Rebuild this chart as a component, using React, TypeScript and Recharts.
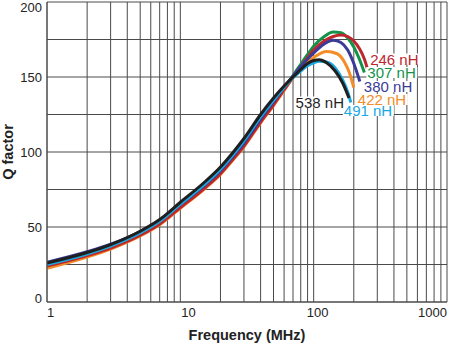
import React from 'react';
import {LineChart, Line, XAxis, YAxis, CartesianGrid, LabelList, Label} from 'recharts';

document.body.style.margin = '0';

// shared low-frequency points (MHz)
const baseFreq = [1, 2, 3, 5, 7, 10, 15, 20, 25, 30, 40, 50, 60, 70, 80, 90, 100];

// Q values per inductance: base part + tail up to the end of each curve
const q246 = [24, 31, 36, 44.5, 52, 63, 75.5, 85.5, 95.5, 104, 120, 131.5, 141.5, 150, 157, 163, 168];
const tailF246 = [120, 140, 160, 180, 200, 220, 240, 252];
const tailQ246 = [174, 177, 178, 177, 174, 169, 162, 156];

const q307 = [24.5, 31.5, 36.5, 45.5, 53, 64, 76.5, 86.5, 96.5, 105, 121, 132.5, 142.5, 151, 158.5, 165, 170.5];
const tailF307 = [120, 140, 160, 180, 200, 220, 240];
const tailQ307 = [177, 180, 179.5, 176, 170, 162, 153];

const q380 = [26.5, 33.5, 38.5, 47, 54.5, 65, 77.5, 87.5, 97.5, 106, 122, 133.5, 143, 150.5, 157, 162, 166];
const tailF380 = [120, 140, 160, 180, 200, 222];
const tailQ380 = [172, 174.5, 173, 168, 159, 147];

const q422 = [22.5, 30, 35.3, 44, 51.5, 62.5, 75, 85, 95, 103.5, 119.5, 131, 141, 149.5, 155.5, 160, 163];
const tailF422 = [125, 150, 170, 185, 200];
const tailQ422 = [167, 165.5, 160, 153, 143];

const q491 = [25, 32, 37.3, 46, 53.8, 65.2, 78, 88.5, 98.5, 107.5, 123.5, 134.5, 143, 149.5, 154, 157.5, 159.5];
const tailF491 = [110, 125, 145, 165, 180, 190];
const tailQ491 = [160.5, 160, 156, 148, 140, 133];

const q538 = [26, 33, 38.3, 47.2, 55, 66.5, 79.5, 90, 100, 109, 125, 136, 144, 150, 155, 159, 161];
const tailF538 = [110, 125, 145, 165, 184];
const tailQ538 = [161.5, 159.5, 154, 146, 136];

const xTicks = [1, 2, 3, 4, 5, 6, 7, 8, 9, 10, 20, 30, 40, 50, 60, 70, 80, 90, 100, 200, 300, 400, 500, 600, 700, 800, 900, 1000];
const yTicks = [0, 25, 50, 75, 100, 125, 150, 175, 200];

const FONT = 'Liberation Sans, Arial, Helvetica, sans-serif';
const GRID = '#4a4a4a';

const build = (tailF: number[], baseQ: number[], tailQ: number[]) =>
    [...baseFreq, ...tailF].map((f, i) => ({f, q: [...baseQ, ...tailQ][i]}));

const series = [
    {name: '422 nH', color: '#f48c28', data: build(tailF422, q422, tailQ422), dx: 4, dy: 12, anchor: 'start'},
    {name: '307 nH', color: '#13924a', data: build(tailF307, q307, tailQ307), dx: 3, dy: 0, anchor: 'start'},
    {name: '246 nH', color: '#be262c', data: build(tailF246, q246, tailQ246), dx: 3, dy: -9, anchor: 'start'},
    {name: '380 nH', color: '#3a3b97', data: build(tailF380, q380, tailQ380), dx: 4, dy: 5, anchor: 'start'},
    {name: '491 nH', color: '#1ba8e0', data: build(tailF491, q491, tailQ491), dx: -7, dy: 8, anchor: 'start'},
    {name: '538 nH', color: '#1f1f1f', data: build(tailF538, q538, tailQ538), dx: -5, dy: 4, anchor: 'end'},
];

const XTick = ({x, y, payload}: any) => {
    const v = payload.value;
    if (![1, 10, 100, 1000].includes(v)) return null;
    const anchor = v === 1000 ? 'end' : v === 100 ? 'middle' : 'start';
    const shift = v === 100 ? 4 : v === 10 ? 1 : 0;
    return (
        <text x={x + shift} y={y} dy="0.71em" textAnchor={anchor} fontSize={13} fontFamily={FONT} fill="#222">
            {v}
        </text>
    );
};

const YTick = ({x, y, payload}: any) => {
    const v = payload.value;
    if (v % 50 !== 0) return null;
    const shift = v === 0 ? -4 : v === 200 ? 5 : 0;
    return (
        <text x={x} y={y + shift} dy="0.35em" textAnchor="end" fontSize={13} fontFamily={FONT} fill="#222">
            {v}
        </text>
    );
};

// label at the last point of each curve, on a white box
const endLabel = (s: any) => (props: any) => {
    const {x, y, index} = props;
    if (index !== s.data.length - 1) return null;
    const w = 49;
    const cx = x + s.dx;
    const cy = y + s.dy;
    const left = s.anchor === 'end' ? cx - w : cx;
    return (
        <g>
            <rect x={left - 1} y={cy - 5.5} width={w + 2} height={11} fill="#fff"/>
            <text x={cx} y={cy + 5.5} textAnchor={s.anchor} fontSize={15} fontFamily={FONT} fill={s.color}>
                {s.name}
            </text>
        </g>
    );
};

export default function App() {
    return (
        <LineChart width={450} height={346} margin={{top: 2, right: 3, bottom: 0, left: 0}}>
            <CartesianGrid stroke={GRID} strokeWidth={1}/>
            <XAxis
                dataKey="f"
                type="number"
                scale="log"
                domain={[1, 1000]}
                ticks={xTicks}
                interval={0}
                height={44}
                tickSize={0}
                tickMargin={6}
                tick={<XTick/>}
                axisLine={{stroke: GRID}}
                allowDataOverflow
            >
                <Label
                    content={() => (
                        <text x={247} y={340} textAnchor="middle" fontSize={14.5} fontWeight="bold" fontFamily={FONT} fill="#222">
                            Frequency (MHz)
                        </text>
                    )}
                />
            </XAxis>
            <YAxis
                type="number"
                domain={[0, 200]}
                ticks={yTicks}
                interval={0}
                width={47}
                tickSize={0}
                tickMargin={5}
                tick={<YTick/>}
                axisLine={{stroke: GRID}}
            >
                <Label
                    content={() => (
                        <text x={13} y={152} transform="rotate(-90 13 152)" textAnchor="middle" fontSize={14.5} fontWeight="bold" fontFamily={FONT} fill="#222">
                            Q factor
                        </text>
                    )}
                />
            </YAxis>
            {series.map(s => (
                <Line
                    key={s.name}
                    data={s.data}
                    dataKey="q"
                    type="monotone"
                    stroke={s.color}
                    strokeWidth={3}
                    dot={false}
                    isAnimationActive={false}
                >
                    <LabelList dataKey="q" content={endLabel(s)}/>
                </Line>
            ))}
        </LineChart>
    );
}
